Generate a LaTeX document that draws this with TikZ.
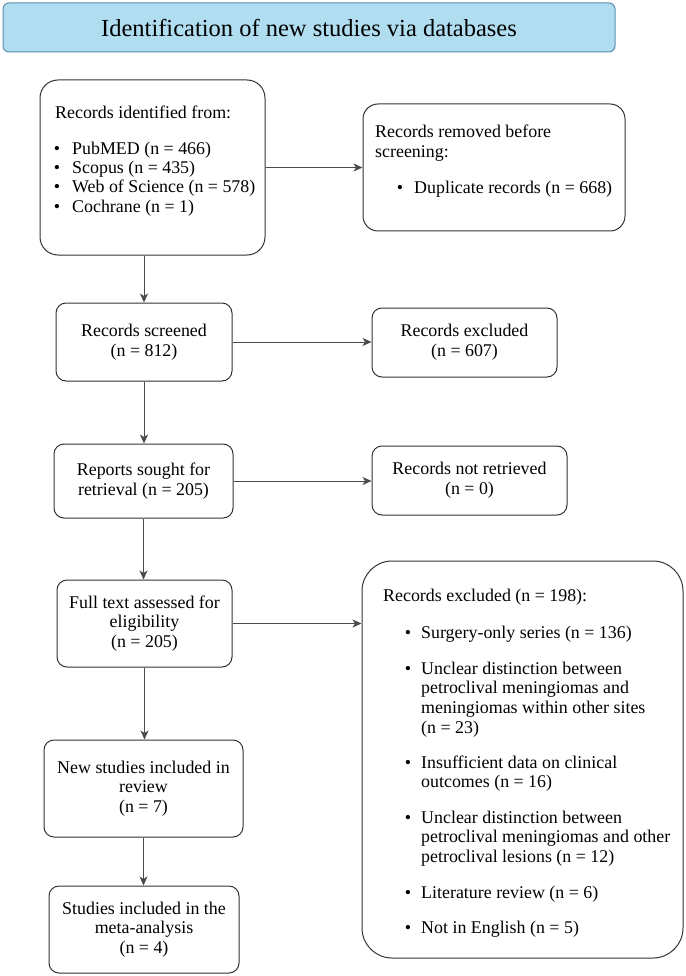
\documentclass[tikz,border=0pt]{standalone}
\usepackage{fontspec}
\setmainfont{Liberation Serif}
\usetikzlibrary{arrows.meta}
\definecolor{titlefill}{HTML}{B0DDF0}
\definecolor{titledraw}{HTML}{5E8FAE}
\definecolor{boxdraw}{HTML}{333333}
\definecolor{linec}{HTML}{4A4A4A}
\newcommand\myBodyFont{\fontsize{17.9}{19.7}\selectfont}
\newcommand\myLines[1]{\begin{tabular}[t]{@{}l@{}}#1\end{tabular}}
\tikzset{
  box/.style={draw=boxdraw, line width=1pt, rounded corners=10pt, align=center, inner sep=0pt, font=\myBodyFont},
  titlebox/.style={draw=titledraw, fill=titlefill, line width=1pt, rounded corners=6pt, inner sep=0pt, font=\fontsize{24.5}{27}\selectfont},
  ltxt/.style={inner sep=0pt, anchor=base west, font=\myBodyFont},
  bul/.style={inner sep=0pt, anchor=base, font=\myBodyFont},
  arr/.style={draw=linec, line width=1pt, -{Stealth[length=9pt,width=8pt,inset=2.5pt]}}
}
\begin{document}
\begin{tikzpicture}[x=1pt,y=-1pt]
\useasboundingbox (0,0) rectangle (685,976);
% title
\node[titlebox, minimum width=612, minimum height=49] (title) at (309,27.5) {Identification of new studies via databases};
% identification box
\node[box, rounded corners=18pt, minimum width=225, minimum height=175] (ident) at (152.5,167.5) {};
\node[ltxt] (identhead) at (55,119) {Records identified from:};
\node[bul] (ib1) at (57,155) {\textbullet};
\node[bul] (ib2) at (57,174) {\textbullet};
\node[bul] (ib3) at (57,193) {\textbullet};
\node[bul] (ib4) at (57,213) {\textbullet};
\node[ltxt] (it1) at (72,155) {PubMED (n = 466)};
\node[ltxt] (it2) at (72,174) {Scopus (n = 435)};
\node[ltxt] (it3) at (72,193) {Web of Science (n = 578)};
\node[ltxt] (it4) at (72,213) {Cochrane (n = 1)};
% removed box
\node[box, rounded corners=15pt, minimum width=262, minimum height=127] (removed) at (494,167.5) {};
\node[ltxt] (remhead) at (375,138) {\myLines{Records removed before\\screening:}};
\node[bul] (rb1) at (400,194) {\textbullet};
\node[ltxt] (rt1) at (414,194) {Duplicate records (n = 668)};
% main column
\node[box, minimum width=176, minimum height=78] (screened) at (144,342) {Records screened\\(n = 812)};
\node[box, minimum width=185, minimum height=69] (excl1) at (464.5,342.5) {Records excluded\\(n = 607)};
\node[box, minimum width=179, minimum height=74] (sought) at (143.5,481) {Reports sought for\\retrieval (n = 205)};
\node[box, minimum width=195, minimum height=69] (notret) at (469.5,480.5) {Records not retrieved\\(n = 0)};
\node[box, minimum width=175, minimum height=87] (full) at (144.5,623.5) {Full text assessed for\\eligibility\\(n = 205)};
\node[box, minimum width=199, minimum height=97] (newst) at (143.5,788.5) {New studies included in\\review\\(n = 7)};
\node[box, minimum width=190, minimum height=87] (meta) at (144,929.5) {Studies included in the\\meta-analysis\\(n = 4)};
% excluded (198) box
\node[box, rounded corners=30pt, minimum width=321, minimum height=397] (excl2) at (522.5,759.5) {};
\node[ltxt] (exhead) at (383,601) {Records excluded (n = 198):};
\node[bul] (eb1) at (408,638) {\textbullet};
\node[bul] (eb2) at (408,674) {\textbullet};
\node[bul] (eb3) at (408,768) {\textbullet};
\node[bul] (eb4) at (408,823) {\textbullet};
\node[bul] (eb5) at (408,898) {\textbullet};
\node[bul] (eb6) at (408,933) {\textbullet};
\node[ltxt] (et1) at (421,638) {Surgery-only series (n = 136)};
\node[ltxt] (et2) at (421,674) {\myLines{Unclear distinction between\\petroclival meningiomas and\\meningiomas within other sites\\(n = 23)}};
\node[ltxt] (et3) at (421,768) {\myLines{Insufficient data on clinical\\outcomes (n = 16)}};
\node[ltxt] (et4) at (421,823) {\myLines{Unclear distinction between\\petroclival meningiomas and other\\petroclival lesions (n = 12)}};
\node[ltxt] (et5) at (421,898) {Literature review (n = 6)};
\node[ltxt] (et6) at (421,933) {Not in English (n = 5)};
% connectors
\draw[arr] (ident.south -| screened.north) -- (screened.north);
\draw[arr] (ident.east) -- (removed.west);
\draw[arr] (screened.east) -- (screened.east -| excl1.west);
\draw[arr] (screened.south) -- (screened.south |- sought.north);
\draw[arr] (sought.east) -- (sought.east -| notret.west);
\draw[arr] (sought.south) -- (sought.south |- full.north);
\draw[arr] (full.east) -- (full.east -| excl2.west);
\draw[arr] (full.south) -- (full.south |- newst.north);
\draw[arr] (newst.south) -- (newst.south |- meta.north);
\end{tikzpicture}
\end{document}
